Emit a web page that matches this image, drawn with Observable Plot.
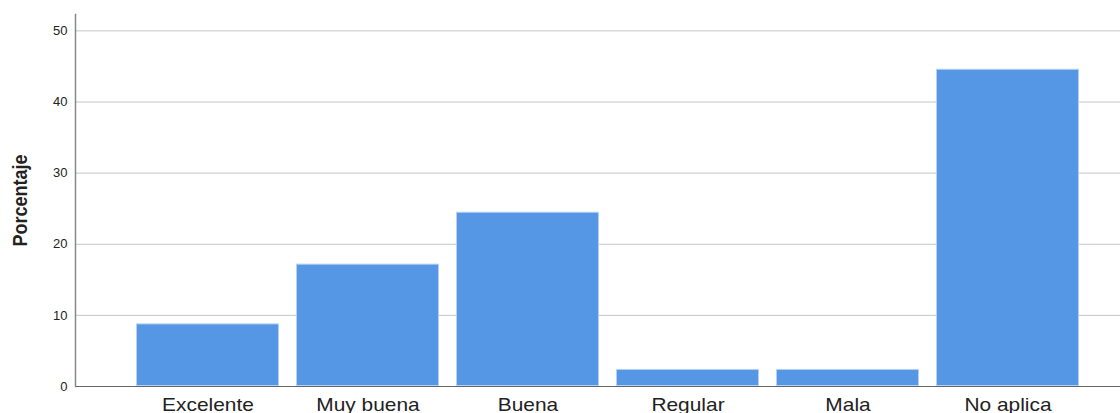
<!DOCTYPE html>
<html>
<head>
<meta charset="utf-8">
<script src="https://cdn.jsdelivr.net/npm/d3@7"></script>
<script src="https://cdn.jsdelivr.net/npm/@observablehq/plot@0.6"></script>
<style>
  html, body { margin: 0; padding: 0; background: #fff; }
  svg { display: block; }
</style>
</head>
<body>
<div id="chart"></div>
<script>
const categories = ["Excelente", "Muy buena", "Buena", "Regular", "Mala", "No aplica"];
const percentages = [8.8, 17.2, 24.5, 2.4, 2.4, 44.6];
const yTicks = [0, 10, 20, 30, 40, 50];
const yLabel = "Porcentaje";

const data = categories.map((c, i) => ({categoria: c, porcentaje: percentages[i]}));

const chart = Plot.plot({
  width: 1120,
  height: 413,
  marginLeft: 75,
  marginRight: 0,
  marginTop: 14,
  marginBottom: 27,
  style: {fontFamily: "'Liberation Sans', Arial, sans-serif", background: "#fff", color: "#222"},
  x: {domain: categories, range: [127.5, 1087.5], paddingInner: 0.10625, paddingOuter: 0.053125, label: null},
  y: {domain: [0, 52.3], label: yLabel},
  marks: [
    Plot.gridY(yTicks, {stroke: "#c4c4c4", strokeOpacity: 1}),
    Plot.barY(data, {x: "categoria", y: "porcentaje", fill: "#5596e5", stroke: "#b5d0f3", strokeWidth: 1, inset: 0.5}),
    Plot.ruleY([0], {stroke: "#666", strokeWidth: 1}),
    Plot.frame({anchor: "left", stroke: "#888", strokeWidth: 1.5}),
    Plot.axisX({tickSize: 0, tickPadding: 11, fontSize: 19, label: null}),
    Plot.axisY(yTicks, {tickSize: 0, tickPadding: 8, fontSize: 13, label: yLabel, labelAnchor: "center", labelArrow: "none", labelOffset: 63})
  ]
});
document.getElementById("chart").appendChild(chart);

const svg = d3.select(chart);
svg.selectAll('g[aria-label="x-axis tick label"] text').each(function() {
  const w = this.getComputedTextLength();
  this.setAttribute("textLength", (w * 1.1).toFixed(1));
  this.setAttribute("lengthAdjust", "spacingAndGlyphs");
});
svg.selectAll('g[aria-label="y-axis label"] text').each(function() {
  this.style.fontFamily = "'Liberation Sans Narrow', 'Liberation Sans', Arial, sans-serif";
  this.style.fontWeight = "bold";
  this.style.fontSize = "21px";
  this.setAttribute("textLength", "92");
  this.setAttribute("lengthAdjust", "spacingAndGlyphs");
});
</script>
</body>
</html>
